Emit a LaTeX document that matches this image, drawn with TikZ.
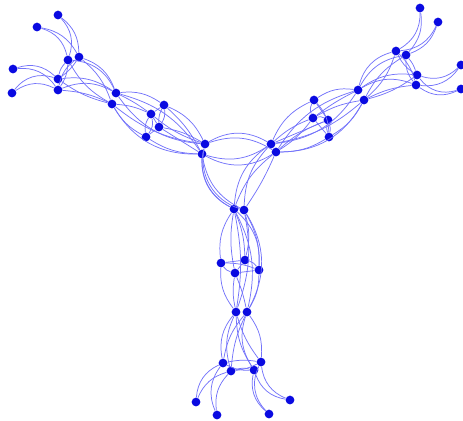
\documentclass[tikz,border=0pt]{standalone}
\usepackage{xcolor}
\usepackage{tikz}
\definecolor{vtxblue}{RGB}{10,10,225}
\definecolor{edgblue}{RGB}{115,115,250}

\begin{document}
\begin{tikzpicture}[
  x=0.02cm, y=0.02cm,
  vtx/.style={circle, fill=vtxblue, draw=none, inner sep=0pt, minimum size=1.75mm},
  lnk/.style={draw=edgblue, line width=0.42pt}
]
\useasboundingbox (0,0) rectangle (463,-420);
% centre triangle
\node[vtx] (a1) at (205,-144) {};
\node[vtx] (a2) at (202,-154) {};
\node[vtx] (b1) at (271,-144) {};
\node[vtx] (b2) at (276,-152) {};
\node[vtx] (c1) at (234,-209) {};
\node[vtx] (c2) at (244,-210) {};
% upper left arm
\node[vtx] (l1) at (58,-15) {};
\node[vtx] (l2) at (37,-27) {};
\node[vtx] (l3) at (13,-69) {};
\node[vtx] (l4) at (12,-93) {};
\node[vtx] (lh1) at (68,-60) {};
\node[vtx] (lh2) at (79,-57) {};
\node[vtx] (lh3) at (58,-79) {};
\node[vtx] (lh4) at (58,-90) {};
\node[vtx] (lp1) at (116,-93) {};
\node[vtx] (lp2) at (112,-104) {};
\node[vtx] (lq1) at (164,-105) {};
\node[vtx] (lq2) at (151,-114) {};
\node[vtx] (lq3) at (159,-127) {};
\node[vtx] (lq4) at (146,-137) {};
% upper right arm
\node[vtx] (r1) at (420,-8) {};
\node[vtx] (r2) at (438,-22) {};
\node[vtx] (r3) at (461,-65) {};
\node[vtx] (r4) at (461,-89) {};
\node[vtx] (rh1) at (396,-51) {};
\node[vtx] (rh2) at (406,-55) {};
\node[vtx] (rh3) at (417,-75) {};
\node[vtx] (rh4) at (416,-85) {};
\node[vtx] (rp1) at (358,-90) {};
\node[vtx] (rp2) at (364,-100) {};
\node[vtx] (rq1) at (314,-100) {};
\node[vtx] (rq2) at (313,-118) {};
\node[vtx] (rq3) at (328,-120) {};
\node[vtx] (rq4) at (329,-137) {};
% lower arm
\node[vtx] (dq1) at (221,-263) {};
\node[vtx] (dq2) at (245,-260) {};
\node[vtx] (dq3) at (235,-273) {};
\node[vtx] (dq4) at (259,-270) {};
\node[vtx] (dp1) at (236,-312) {};
\node[vtx] (dp2) at (247,-312) {};
\node[vtx] (dh1) at (223,-363) {};
\node[vtx] (dh2) at (231,-371) {};
\node[vtx] (dh3) at (261,-362) {};
\node[vtx] (dh4) at (254,-370) {};
\node[vtx] (d1) at (196,-402) {};
\node[vtx] (d2) at (217,-415) {};
\node[vtx] (d3) at (290,-400) {};
\node[vtx] (d4) at (269,-414) {};

% centre links
\path[lnk] (a1) edge[bend left=30] (b1) (a1) edge[bend left=25] (b2)
  (a2) edge[bend right=25] (b1) (a2) edge[bend right=30] (b2);
\path[lnk] (a1) edge[bend right=38] (c1) (a2) edge[bend right=32] (c1)
  (a1) edge[bend right=42] (c2) (a2) edge[bend right=26] (c2);
\path[lnk] (b1) edge[bend right=25] (c1) (b2) edge[bend right=15] (c1)
  (b1) edge[bend right=20] (c2) (b2) edge[bend left=5] (c2);

% upper left arm
\path[lnk] (l1) edge[bend left=30] (lh1) (l1) edge[bend left=25] (lh2)
  (l2) edge[bend left=30] (lh1) (l2) edge[bend left=25] (lh2)
  (l3) edge[bend left=30] (lh3) (l3) edge[bend left=30] (lh4)
  (l4) edge[bend left=35] (lh3) (l4) edge[bend left=30] (lh4);
\path[lnk] (lh1) edge[bend right=15] (lh3) (lh2) edge[bend left=10] (lh3)
  (lh1) edge[bend left=15] (lh4) (lh2) edge[bend right=20] (lh4);
\path[lnk] (lh1) edge[bend left=30] (lp1) (lh1) edge[bend right=15] (lp2)
  (lh2) edge[bend left=25] (lp1) (lh2) edge[bend left=15] (lp2)
  (lh3) edge[bend left=20] (lp1) (lh3) edge[bend right=10] (lp2)
  (lh4) edge[bend left=25] (lp1) (lh4) edge[bend left=10] (lp2);
\path[lnk] (lp1) edge[bend left=20] (lq1) (lp1) edge[bend left=5] (lq2)
  (lp2) edge[bend right=15] (lq4) (lp2) edge[bend left=10] (lq2)
  (lp1) edge[bend right=25] (a1) (lp2) edge[bend right=30] (a2)
  (lp2) edge[bend right=15] (a1) (lp1) edge[bend left=20] (a2);
\path[lnk] (lq1) edge (lq2) (lq2) edge[bend left=25] (lq4) (lq2) edge[bend right=20] (lq4)
  (lq1) edge[bend left=20] (lq3) (lq1) edge[bend right=15] (lq3)
  (lq3) edge (lq4) (lq2) edge (lq3);
\path[lnk] (lq1) edge[bend left=20] (a1) (lq1) edge[bend left=10] (a2)
  (lq3) edge[bend left=10] (a1) (lq4) edge[bend right=15] (a2)
  (lq2) edge[bend right=10] (a1) (lq3) edge (a2);

% upper right arm
\path[lnk] (r1) edge[bend left=30] (rh1) (r1) edge[bend left=25] (rh2)
  (r2) edge[bend left=30] (rh1) (r2) edge[bend left=25] (rh2)
  (r3) edge[bend left=30] (rh3) (r3) edge[bend left=30] (rh4)
  (r4) edge[bend left=35] (rh3) (r4) edge[bend left=30] (rh4);
\path[lnk] (rh1) edge[bend right=15] (rh3) (rh2) edge[bend left=10] (rh3)
  (rh1) edge[bend left=15] (rh4) (rh2) edge[bend right=20] (rh4);
\path[lnk] (rh1) edge[bend right=30] (rp1) (rh1) edge[bend left=15] (rp2)
  (rh2) edge[bend right=25] (rp1) (rh2) edge[bend right=15] (rp2)
  (rh3) edge[bend right=20] (rp1) (rh3) edge[bend left=10] (rp2)
  (rh4) edge[bend right=25] (rp1) (rh4) edge[bend right=10] (rp2);
\path[lnk] (rp1) edge[bend right=20] (rq1) (rp1) edge[bend right=5] (rq2)
  (rp2) edge[bend left=15] (rq4) (rp2) edge[bend right=10] (rq2)
  (rp1) edge[bend left=25] (b1) (rp2) edge[bend left=30] (b2)
  (rp2) edge[bend left=15] (b1) (rp1) edge[bend right=20] (b2);
\path[lnk] (rq1) edge (rq3) (rq1) edge[bend right=25] (rq2) (rq1) edge[bend left=20] (rq4)
  (rq2) edge[bend left=20] (rq3) (rq3) edge[bend right=15] (rq4)
  (rq2) edge (rq4) (rq3) edge[bend left=15] (rq4);
\path[lnk] (rq1) edge[bend right=20] (b1) (rq2) edge[bend right=10] (b1)
  (rq3) edge[bend right=10] (b2) (rq4) edge[bend left=15] (b2)
  (rq2) edge[bend left=10] (b2) (rq3) edge (b1);

% lower arm
\path[lnk] (d1) edge[bend left=30] (dh1) (d1) edge[bend left=25] (dh2)
  (d2) edge[bend left=30] (dh1) (d2) edge[bend left=25] (dh2)
  (d3) edge[bend left=30] (dh3) (d3) edge[bend left=30] (dh4)
  (d4) edge[bend left=35] (dh3) (d4) edge[bend left=30] (dh4);
\path[lnk] (dh1) edge[bend left=10] (dh3) (dh2) edge[bend right=10] (dh3)
  (dh1) edge[bend right=15] (dh4) (dh2) edge[bend left=15] (dh4);
\path[lnk] (dh1) edge[bend left=25] (dp1) (dh1) edge[bend left=15] (dp2)
  (dh2) edge[bend left=20] (dp1) (dh2) edge[bend left=10] (dp2)
  (dh3) edge[bend right=20] (dp2) (dh3) edge[bend left=10] (dp1)
  (dh4) edge[bend left=25] (dp2) (dh4) edge[bend left=15] (dp1);
\path[lnk] (dp1) edge[bend left=20] (dq1) (dp1) edge[bend left=10] (dq3)
  (dp2) edge[bend right=15] (dq4) (dp2) edge[bend right=5] (dq3)
  (dp1) edge[bend right=10] (c1) (dp2) edge[bend right=30] (c2)
  (dp2) edge[bend right=20] (c1) (dp1) edge[bend right=15] (c2);
\path[lnk] (dq1) edge (dq2) (dq1) edge[bend right=20] (dq3) (dq1) edge[bend left=10] (dq4)
  (dq2) edge (dq3) (dq2) edge[bend left=20] (dq4) (dq3) edge (dq4);
\path[lnk] (dq1) edge[bend left=20] (c1) (dq2) edge[bend right=10] (c1)
  (dq2) edge[bend right=15] (c2) (dq4) edge[bend right=15] (c2)
  (dq3) edge[bend left=10] (c1) (dq4) edge[bend right=25] (c1);
\end{tikzpicture}
\end{document}
